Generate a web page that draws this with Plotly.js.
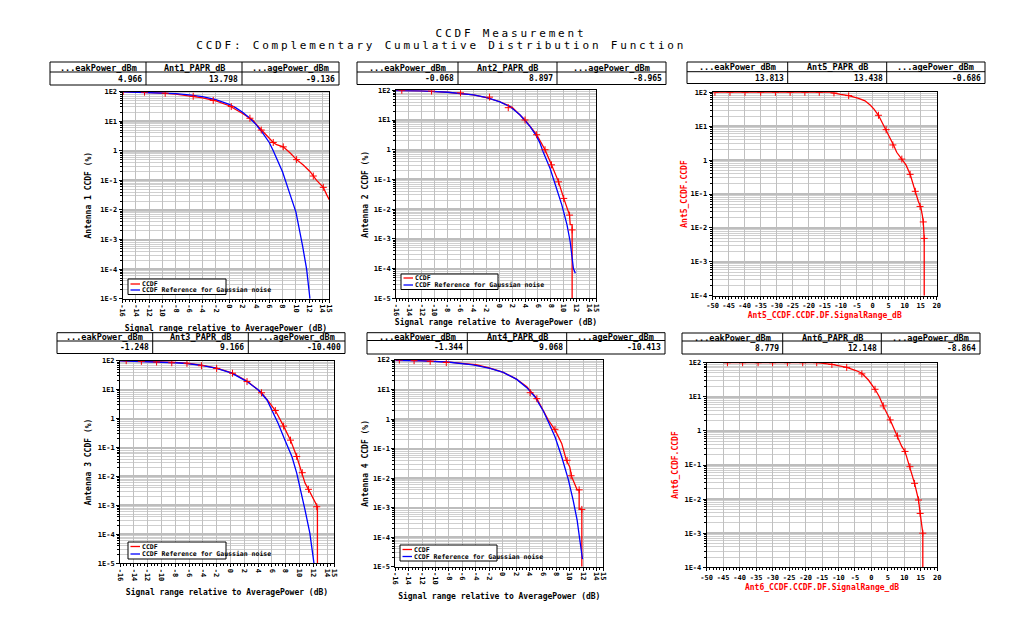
<!DOCTYPE html>
<html><head><meta charset="utf-8">
<script src="https://cdn.plot.ly/plotly-3.0.1.min.js"></script>
<style>body{margin:0;background:#fff}</style>
</head><body><div id="chart" style="width:1026px;height:632px"></div>
<script>
// ---------------- DATA ----------------
const chartTitle1 = 'CCDF Measurement';
const chartTitle2 = 'CCDF: Complementary Cumulative Distribution Function';
const xTitleDb = 'Signal range relative to AveragePower (dB)';
const yTitles = ['Antenna 1 CCDF (%)', 'Antenna 2 CCDF (%)', 'Ant5_CCDF.CCDF', 'Antenna 3 CCDF (%)', 'Antenna 4 CCDF (%)', 'Ant6_CCDF.CCDF'];
const xTitles = [xTitleDb, xTitleDb, 'Ant5_CCDF.CCDF.DF.SignalRange_dB', xTitleDb, xTitleDb, 'Ant6_CCDF.CCDF.DF.SignalRange_dB'];
const seriesNames = ['CCDF', 'CCDF Reference for Gaussian noise'];

const tableHeaders = [
  ['...eakPower_dBm', 'Ant1_PAPR_dB', '...agePower_dBm'],
  ['...eakPower_dBm', 'Ant2_PAPR_dB', '...agePower_dBm'],
  ['...eakPower_dBm', 'Ant5_PAPR_dB', '...agePower_dBm'],
  ['...eakPower_dBm', 'Ant3_PAPR_dB', '...agePower_dBm'],
  ['...eakPower_dBm', 'Ant4_PAPR_dB', '...agePower_dBm'],
  ['...eakPower_dBm', 'Ant6_PAPR_dB', '...agePower_dBm']
];
const peakPower = ['4.966', '-0.068', '13.813', '-1.248', '-1.344', '8.779'];
const paprDb    = ['13.798', '8.897', '13.438', '9.166', '9.068', '12.148'];
const avgPower  = ['-9.136', '-8.965', '-0.686', '-10.400', '-10.413', '-8.864'];

const dbTickVals = [-16,-14,-12,-10,-8,-6,-4,-2,0,2,4,6,8,10,12,14,15];
const dbTickText = ['-16','-14','-12','-10','-8','-6','-4','-2','0','2','4','6','8','10','12','14','15'];
const wideTickVals = [-50,-45,-40,-35,-30,-25,-20,-15,-10,-5,0,5,10,15,20];
const wideTickText = ['-50','-45','-40','-35','-30','-25','-20','-15','-10','-5','0','5','10','15','20'];
const pctTickVals = [1e-5,1e-4,1e-3,1e-2,1e-1,1,10,100];
const pctTickText = ['1E-5','1E-4','1E-3','1E-2','1E-1','1','1E1','1E2'];

// Antenna 1
const ant1_x    = [-16,-14,-12,-10,-8,-6,-4,-2,0,2,3.6,4.1,5.1,6.1,6.6,7.1,8.1,9.1,10.1,11.1,11.6,12.1,13.1,14.1,14.6,15];
const ant1_ccdf = [100,97,93,88,81,72,61,48,33,18,10.5,7.5,4.2,2.4,1.9,1.6,1.35,0.85,0.5,0.33,0.26,0.2,0.1,0.058,0.033,0.022];
const ant1_ref_x = [-16,-14,-12,-10,-8,-6,-4,-2,0,1,2,3,4,5,6,6.6,7,8,9,10,11,11.6,12.1];
const ant1_ref   = [98,96,94,90,85,77,67,53,37,28,20,13,7.8,4.0,1.9,1.0,0.6,0.19,0.04,0.0085,0.0006,0.0001,0.00001];
const ant1_mk_x = [-15.9,-12.7,-9.6,-5.4,-2.4,0.3,3.1,4.8,6.6,8.1,10.1,12.6,14.1];
const ant1_mk_y = [100,95,87,69,50,31,12.5,5,1.9,1.35,0.5,0.14,0.058];

// Antenna 2
const ant2_x    = [-16,-12,-8,-4,-2,0,2,4,5.8,7.1,8.1,9.2,10.0,10.7,10.9,11.0,11.3,11.3];
const ant2_ccdf = [100,96,86,70,57,42,27,10,3.2,1.0,0.31,0.083,0.023,0.0093,0.0063,0.003,0.003,0.00001];
const ant2_ref_x = [-16,-12,-8,-6.6,-4,-1.9,0.1,1.7,3.2,4.8,5.8,6.3,6.8,7.9,8.9,9.7,10.5,11.0,11.5,11.8];
const ant2_ref   = [98,95,86,80,70,57,41,28,15,6,2.8,1.7,0.85,0.23,0.05,0.014,0.003,0.0008,0.0001,0.00007];
const ant2_mk_x = [-15.1,-10.5,-6,-1.5,1.4,4,5.8,7.1,8.1,9.2,10.0,10.9,11.3];
const ant2_mk_y = [100,94,82,59,26,10,3.2,1.0,0.31,0.083,0.023,0.0063,0.002];

// Ant5
const ant5_x    = [-49.3,-13.3,-10,-7.5,-4.4,-2.4,-0.8,0.4,1.8,3.3,4.4,5.4,6.5,7.5,9.1,10.4,11.7,12.5,13.3,14.3,15,15.5,15.8,16.1,16.1];
const ant5_ccdf = [100,100,87,80,66,56,42,32,21,11,7.4,4.4,2.8,1.7,1.07,0.72,0.38,0.23,0.12,0.059,0.042,0.024,0.015,0.0049,0.0001];
const ant5_mk_x = [-49.3,-44.6,-39.9,-35,-30.4,-25.8,-21.2,-16.7,-12.1,-7.5,1.8,4.2,6.3,9.1,11.7,13.3,14.8,15.8,16.1];
const ant5_mk_y = [100,100,100,100,100,100,100,100,96,80,21,7.9,2.8,1.07,0.38,0.12,0.043,0.015,0.0049];

// Antenna 3
const ant3_x    = [-16,-12,-8,-6,-4,-2,0.2,2.4,4.5,5.7,6.5,7.7,8.7,9.6,10.4,10.8,11.3,11.9,12.3,12.6,12.6];
const ant3_ccdf = [100,96,87,80,69,55,38,20,7.8,3.4,1.9,0.55,0.18,0.049,0.0135,0.0059,0.0036,0.002,0.0012,0.0009,0.00001];
const ant3_ref_x = [-16,-12,-8,-6.3,-4,-2,0.2,2.4,4.05,5.3,6.2,6.9,7.9,8.9,9.6,10.3,10.8,11.5,12.1];
const ant3_ref   = [98,94,85,80,68,54,37,19,9.7,4.4,1.5,0.69,0.18,0.049,0.013,0.0026,0.0007,0.00011,0.00001];
const ant3_mk_x = [-15.1,-12.9,-10.7,-8.5,-6.3,-4.2,-2,0.3,2.4,4.5,6.5,7.7,8.7,9.6,10.4,11.3,12.5];
const ant3_mk_y = [100,95,90,85,81,67,54,37,19,7.8,1.9,0.55,0.18,0.049,0.0135,0.0036,0.0009];

// Antenna 4
const ant4_x    = [-16,-12,-8,-4,-2,0,2,3.6,5.1,6.2,6.8,7.8,8.8,9.5,10.0,10.3,10.8,11.1,11.4,11.4,11.8,11.8];
const ant4_ccdf = [100,95,85,69,54,39,23,12.5,4.9,1.55,0.93,0.43,0.15,0.04,0.024,0.011,0.0059,0.004,0.004,0.00095,0.00087,0.00001];
const ant4_ref_x = [-16,-12,-7.9,-4.4,-1.9,0.1,2.1,3.6,4.8,6.1,6.8,7.8,8.8,9.8,10.5,11.1,11.5,11.9];
const ant4_ref   = [98,94,84,68,52,38,22,11.6,5.7,1.8,0.81,0.25,0.053,0.0087,0.0018,0.00038,0.00008,0.000018];
const ant4_mk_x = [-15.4,-13.2,-10.8,-8.4,4.1,5.1,7.8,9.6,10.2,11.4,11.8];
const ant4_mk_y = [100,95,90,82,7.8,4.9,0.45,0.04,0.012,0.004,0.00087];

// Ant6
const ant6_x    = [-44.9,-16.6,-12,-7.5,-4.5,-2.9,-0.9,1.1,2.4,3.6,5.7,7.7,9.2,10.2,11.7,13.1,13.8,14.3,14.8,15.6,15.6];
const ant6_ccdf = [100,100,89,73,58,49,31,16.6,10,5.4,2.1,0.76,0.35,0.25,0.089,0.029,0.015,0.0094,0.0038,0.001,0.0001];
const ant6_mk_x = [-43.7,-39.1,-34.4,-30,-25.5,-20.85,-16.6,-12,-7.5,-2.9,1.1,3.6,5.7,7.9,10.2,11.7,13.1,14.3,14.8,15.6];
const ant6_mk_y = [100,100,100,100,100,100,100,89,73,47,16.6,5.4,2.1,0.71,0.25,0.089,0.029,0.0094,0.0038,0.001];

// ---------------- LAYOUT HELPERS ----------------
const W = 1026, H = 632;
const FONT = 'DejaVu Sans Mono';
const RED = '#ff0000', BLUE = '#0000ff';
function px(x) { return x / W; }
function py(y) { return 1 - y / H; }

// plot rectangles [left, top, right, bottom] in pixels
const rects = [
  [122.5, 91.5, 329.3, 298.8],
  [396, 90.3, 596, 298.3],
  [712.7, 92.3, 936.7, 295.7],
  [120, 360.7, 334, 563.3],
  [395.3, 360, 603.3, 566.7],
  [706.7, 362.7, 937.3, 567.3]
];
const wide = [false, false, true, false, false, true];
const xStand = [9, 4, 3, 9, 9, 3];
const yStand = [7, 3, 1, 4, 3, 4];

const layout = {
  width: W, height: H,
  margin: {l: 0, r: 0, t: 0, b: 0},
  paper_bgcolor: '#fff', plot_bgcolor: '#fff',
  showlegend: false,
  font: {family: FONT, color: '#000'},
  shapes: [], annotations: []
};

rects.forEach(function (r, i) {
  const n = i === 0 ? '' : String(i + 1);
  const titleColor = wide[i] ? RED : '#000';
  layout['xaxis' + n] = {
    domain: [px(r[0]), px(r[2])], anchor: 'y' + n,
    range: wide[i] ? [-50, 20] : [-16, 15],
    tickmode: 'array',
    tickvals: wide[i] ? wideTickVals : dbTickVals,
    ticktext: wide[i] ? wideTickText : dbTickText,
    tickangle: wide[i] ? 0 : 90,
    tickfont: {family: FONT, size: 7, color: '#000', weight: 'bold'},
    ticks: 'outside', ticklen: 3, tickcolor: '#000', tickwidth: 1,
    showgrid: true, gridcolor: '#c0c0c0', gridwidth: 1,
    showline: true, mirror: true, linecolor: '#000', linewidth: 1,
    zeroline: false,
    minor: {ticks: 'outside', ticklen: 2, tickcolor: '#000', tick0: 0, dtick: wide[i] ? 1 : 0.5, showgrid: false},
    title: {text: xTitles[i], font: {family: FONT, size: 8, color: titleColor, weight: 'bold'}, standoff: xStand[i]}
  };
  layout['yaxis' + n] = {
    domain: [py(r[3]), py(r[1])], anchor: 'x' + n,
    type: 'log',
    range: wide[i] ? [-4, 2] : [-5, 2],
    tickmode: 'array',
    tickvals: wide[i] ? pctTickVals.slice(1) : pctTickVals,
    ticktext: wide[i] ? pctTickText.slice(1) : pctTickText,
    tickfont: {family: FONT, size: 7, color: '#000', weight: 'bold'},
    ticks: 'outside', ticklen: 3, tickcolor: '#000',
    showgrid: true, gridcolor: '#bdbdbd', gridwidth: 2,
    showline: true, mirror: true, linecolor: '#000', linewidth: 1,
    zeroline: false,
    minor: {ticks: 'outside', ticklen: 2, tickcolor: '#000', dtick: 'D1', showgrid: true, gridcolor: '#cfcfcf', gridwidth: 1},
    title: {text: yTitles[i], font: {family: FONT, size: 8, color: titleColor, weight: 'bold'}, standoff: yStand[i]}
  };
});

// ---------------- TRACES ----------------
const traces = [];
function addCurve(xs, ys, color, name, n) {
  traces.push({type: 'scatter', mode: 'lines', x: xs, y: ys, name: name,
    xaxis: 'x' + n, yaxis: 'y' + n, line: {color: color, width: 1.3}, cliponaxis: true});
}
function addMarks(xs, ys, n) {
  traces.push({type: 'scatter', mode: 'markers', x: xs, y: ys, name: 'CCDF', showlegend: false,
    xaxis: 'x' + n, yaxis: 'y' + n,
    marker: {symbol: 'cross-thin', size: 5, color: RED, line: {color: RED, width: 1}}, cliponaxis: true});
}
addCurve(ant1_x, ant1_ccdf, RED, seriesNames[0], '');
addCurve(ant1_ref_x, ant1_ref, BLUE, seriesNames[1], '');
addMarks(ant1_mk_x, ant1_mk_y, '');
addCurve(ant2_x, ant2_ccdf, RED, seriesNames[0], '2');
addCurve(ant2_ref_x, ant2_ref, BLUE, seriesNames[1], '2');
addMarks(ant2_mk_x, ant2_mk_y, '2');
addCurve(ant5_x, ant5_ccdf, RED, 'Ant5_CCDF.CCDF', '3');
addMarks(ant5_mk_x, ant5_mk_y, '3');
addCurve(ant3_x, ant3_ccdf, RED, seriesNames[0], '4');
addCurve(ant3_ref_x, ant3_ref, BLUE, seriesNames[1], '4');
addMarks(ant3_mk_x, ant3_mk_y, '4');
addCurve(ant4_x, ant4_ccdf, RED, seriesNames[0], '5');
addCurve(ant4_ref_x, ant4_ref, BLUE, seriesNames[1], '5');
addMarks(ant4_mk_x, ant4_mk_y, '5');
addCurve(ant6_x, ant6_ccdf, RED, 'Ant6_CCDF.CCDF', '6');
addMarks(ant6_mk_x, ant6_mk_y, '6');

// ---------------- TABLES (drawn as boxes + text) ----------------
// column borders [l, c1, c2, r] and rows [top, mid, bottom] in px
const tableCols = [
  [50, 146, 242, 339],
  [357, 458, 557, 666],
  [687, 787.7, 886.7, 985],
  [57, 152.7, 248.3, 345],
  [367, 467.3, 566.7, 665],
  [682, 782.7, 881.3, 980]
];
const tableRows = [
  [62, 72, 85],
  [62, 72, 84.5],
  [62, 71.7, 83.5],
  [332.7, 341, 353.5],
  [332.7, 340.5, 354],
  [333, 341, 354]
];
function seg(x0, y0, x1, y1) {
  layout.shapes.push({type: 'line', xref: 'paper', yref: 'paper', x0: px(x0), y0: py(y0), x1: px(x1), y1: py(y1),
    line: {color: '#000', width: 1}, layer: 'above'});
}
tableCols.forEach(function (c, i) {
  const r = tableRows[i];
  layout.shapes.push({type: 'rect', xref: 'paper', yref: 'paper', x0: px(c[0]), x1: px(c[3]), y0: py(r[2]), y1: py(r[0]),
    line: {color: '#000', width: 1}, fillcolor: '#fff', layer: 'above'});
  seg(c[0], r[1], c[3], r[1]);
  seg(c[1], r[0], c[1], r[2]);
  seg(c[2], r[0], c[2], r[2]);
  const vals = [peakPower[i], paprDb[i], avgPower[i]];
  for (let k = 0; k < 3; k++) {
    layout.annotations.push({xref: 'paper', yref: 'paper', x: px((c[k] + c[k + 1]) / 2), y: py((r[0] + r[1]) / 2 + 0.5),
      xanchor: 'center', yanchor: 'middle', text: tableHeaders[i][k], showarrow: false, borderpad: 0,
      font: {family: FONT, size: 8.5, color: '#000', weight: 'bold'}});
    layout.annotations.push({xref: 'paper', yref: 'paper', x: px(c[k + 1] - 3), y: py((r[1] + r[2]) / 2 + 0.5),
      xanchor: 'right', yanchor: 'middle', text: vals[k], showarrow: false, borderpad: 0,
      font: {family: FONT, size: 8, color: '#000', weight: 'bold'}});
  }
});

// ---------------- LEGENDS (boxes) ----------------
// [left, top, right, bottom, redLineY, blueLineY]
const legendBoxes = [
  [128, 279, 226, 294.5, 284, 290],
  [401, 274, 498, 289.5, 278, 285],
  [128, 542, 226, 559, 546.5, 554],
  [400, 545, 497, 561, 549.5, 556.5]
];
legendBoxes.forEach(function (b) {
  layout.shapes.push({type: 'rect', xref: 'paper', yref: 'paper', x0: px(b[0]), x1: px(b[2]), y0: py(b[3]), y1: py(b[1]),
    line: {color: '#000', width: 1}, fillcolor: '#fff', layer: 'above'});
  [[b[4], RED, seriesNames[0]], [b[5], BLUE, seriesNames[1]]].forEach(function (e) {
    layout.shapes.push({type: 'line', xref: 'paper', yref: 'paper', x0: px(b[0] + 2.5), x1: px(b[0] + 12), y0: py(e[0]), y1: py(e[0]),
      line: {color: e[1], width: 1.3}, layer: 'above'});
    layout.annotations.push({xref: 'paper', yref: 'paper', x: px(b[0] + 13), y: py(e[0]), xanchor: 'left', yanchor: 'middle',
      text: e[2], showarrow: false, font: {family: FONT, size: 6.5, color: '#000', weight: 'bold'}, borderpad: 0});
  });
});

// ---------------- MAIN TITLE ----------------
layout.annotations.push({xref: 'paper', yref: 'paper', x: px(511), y: py(34), xanchor: 'center', yanchor: 'middle',
  text: chartTitle1, showarrow: false, font: {family: FONT, size: 11, color: '#000'}});
layout.annotations.push({xref: 'paper', yref: 'paper', x: px(441), y: py(46), xanchor: 'center', yanchor: 'middle',
  text: chartTitle2, showarrow: false, font: {family: FONT, size: 11, color: '#000'}});

Plotly.newPlot('chart', traces, layout, {staticPlot: true, displayModeBar: false}).then(function () {
  document.querySelectorAll('.annotation-text').forEach(function (t) {
    if (t.textContent === chartTitle1 || t.textContent === chartTitle2) {
      t.style.letterSpacing = '2.8px';
    }
  });
});
</script></body></html>
